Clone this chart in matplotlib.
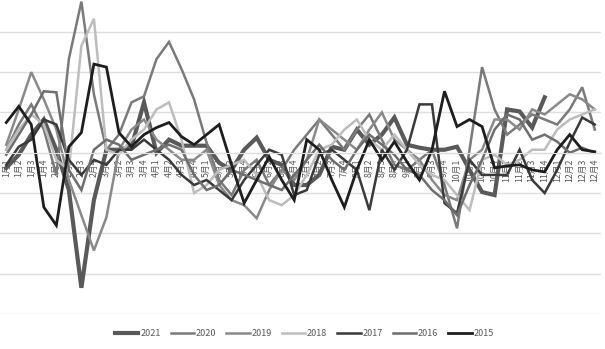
import numpy as np
import matplotlib
matplotlib.use("Agg")
import matplotlib.pyplot as plt

plt.rcParams['font.family'] = ['Noto Sans CJK SC', 'DejaVu Sans']

# weekly categories: 1月1 ... 12月4
months = list(range(1, 13))
weeks = [1, 2, 3, 4]
labels = [f"{m}月{w}" for m in months for w in weeks]

nan = np.nan
s2021 = [-15, -2, 18, 33, 3, -37, -134, -47, 3, 3, 6, 50, 0, 13, 7, 7, 7, -10, -17, 3,
         15, -7, -12, -32, -32, -22, 6, 3, 23, 8, 18, 35, 8, 5, 3, 3, 6, -17, -39, -42,
         43, 41, 25, 55, nan, nan, nan, nan]
s2020 = [3, 28, 48, 23, -22, 93, 150, 58, 3, 18, 50, 56, 93, 110, 83, 53, 10, -27, -42, -17,
         -7, -32, -17, 3, 18, 33, 18, 3, 23, 38, 13, -12, -17, -7, 3, -32, -75, 3, 85, 43,
         18, 28, 38, 33, 28, 43, 65, 23]
s2019 = [8, 43, 80, 53, 23, -27, -62, -97, -64, 3, 23, 33, 13, 3, -7, -7, 3, -32, -47, -52,
         -65, -37, -17, -27, -7, 33, 23, 13, 3, 23, 40, 13, 3, -7, -27, -42, -47, -7, 3, 33,
         33, 23, 43, 38, 48, 58, 53, 43]
s2018 = [3, 23, 38, 28, -7, -17, 106, 133, 3, -2, 13, 23, 43, 50, 13, -40, -32, -17, -12, -7,
         -22, -47, -52, -42, -22, 3, 8, 23, 33, 13, 3, 18, 3, -12, -22, -27, -42, -57, -7, -2,
         -12, -7, 3, 3, 23, 33, 38, 43]
s2017 = [-12, 6, 13, 33, 28, -7, -22, -7, -12, 3, 3, 13, 3, -7, -22, -32, -27, -37, -47, -27,
         -12, 3, -2, -42, -37, -2, 3, -7, -17, -57, 3, -17, 3, 48, 48, -50, -60, -7, -22, -22,
         -22, 3, -27, -40, -17, 10, 35, 28]
s2016 = [-2, 18, 38, 61, 60, -17, -37, 3, 13, 8, -7, -2, 3, 8, 3, -22, -37, -32, -17, -22,
         -27, -32, -37, -22, -7, 8, -7, -17, 3, 18, 8, -2, -17, -22, -37, -47, -62, -32, -7, 23,
         38, 33, 13, 18, 11, 0, 5, 0]
s2015 = [30, 46, 28, -54, -72, 6, 20, 88, 85, 20, 6, 18, 25, 30, 16, 8, 18, 28, -12, -50,
         -27, -4, -27, -47, 13, 3, -27, -54, -17, 13, -7, 11, -9, -27, 3, 61, 26, 33, 26, -15,
         -13, -12, -17, -19, 3, 18, 3, 1]

series = [
    ("2021", s2021, "#595959", 3.0),
    ("2020", s2020, "#7a7a7a", 1.8),
    ("2019", s2019, "#8a8a8a", 1.8),
    ("2018", s2018, "#bdbdbd", 1.8),
    ("2017", s2017, "#3a3a3a", 1.8),
    ("2016", s2016, "#6e6e6e", 1.8),
    ("2015", s2015, "#1e1e1e", 2.0),
]

fig = plt.figure(figsize=(6.05, 3.49), dpi=100)
ax = fig.add_axes([0.0, 0.1003, 0.9934, 0.924])

x = np.arange(len(labels))
for name, vals, color, lw in series:
    ax.plot(x, vals, color=color, linewidth=lw, label=name, solid_joinstyle='miter')

ax.set_xlim(-0.5, len(labels) - 0.5)
ax.set_ylim(-160, 160)
ax.set_yticks(np.arange(-160, 161, 40))
ax.yaxis.grid(True, color="#dedede", linewidth=1.0)
ax.set_axisbelow(True)
ax.tick_params(axis='y', left=False, labelleft=False)

for side in ['top', 'right', 'left']:
    ax.spines[side].set_visible(False)
ax.spines['bottom'].set_position(('data', 0))
ax.spines['bottom'].set_color("#dedede")

ax.set_xticks(x)
ax.set_xticklabels(labels, rotation=90, fontsize=6.3, color="#595959")
ax.tick_params(axis='x', length=0, pad=4)

fig.legend(loc='center', bbox_to_anchor=(0.503, 0.045), ncol=7, frameon=False,
           fontsize=6.5, handlelength=2.6, handletextpad=0.2, columnspacing=1.1,
           labelcolor="#595959")

fig.savefig("out.png", dpi=100)
